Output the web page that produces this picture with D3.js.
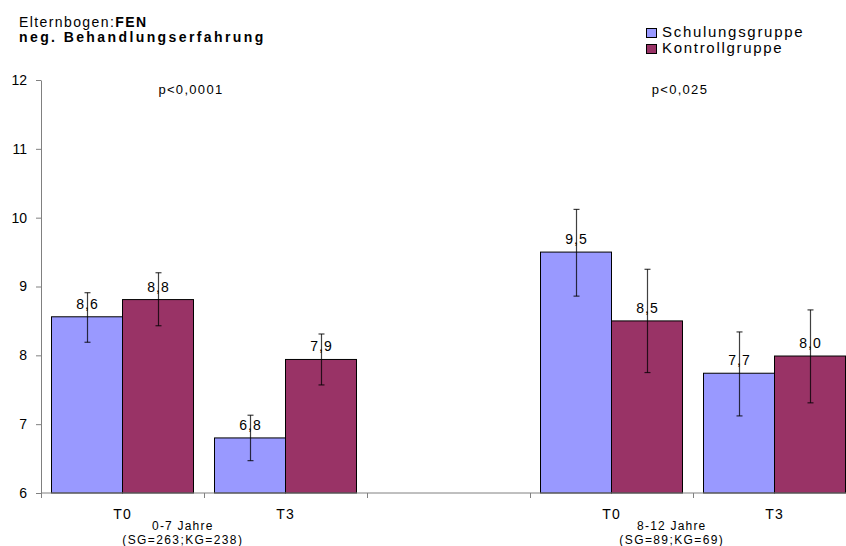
<!DOCTYPE html>
<html><head><meta charset="utf-8">
<script src="https://cdn.jsdelivr.net/npm/d3@7"></script>
<style>
body{margin:0;background:#fff;}
svg{display:block;font-family:"Liberation Sans",Arial,sans-serif;}
</style></head>
<body>
<svg id="c" width="846" height="546"></svg>
<script>
const categories = ["T0","T3","","T0","T3"];
const seriesNames = ["Schulungsgruppe","Kontrollgruppe"];
const schulung = [8.56, 6.80, null, 9.50, 7.74];
const kontroll = [8.81, 7.94, null, 8.50, 7.99];
const schulungLo = [8.19, 6.47, null, 8.86, 7.12];
const schulungHi = [8.91, 7.13, null, 10.12, 8.34];
const kontrollLo = [8.43, 7.57, null, 7.75, 7.31];
const kontrollHi = [9.20, 8.31, null, 9.25, 8.66];
const yTicks = [6,7,8,9,10,11,12];
const groupNames = ["0-7 Jahre","8-12 Jahre"];
const groupNs = ["(SG=263;KG=238)","(SG=89;KG=69)"];
const groupStart = [0,3];
const pValues = ["p<0,0001","p<0,025"];
const colors = ["#9999FF","#993366"];

const svg = d3.select("#c");
const x = d3.scaleBand().domain(d3.range(categories.length)).range([41,856]).paddingInner(0).paddingOuter(0);
const bw = x.bandwidth();
const xs = d3.scaleBand().domain([0,1]).range([0,bw]).paddingInner(0).paddingOuter(0.148);
const y = d3.scaleLinear().domain([6,12]).range([493,80]);
const fmt = v => d3.format(".1f")(v).replace(".",",");

// y axis
const ya = svg.append("g").attr("transform","translate(41,0)")
  .call(d3.axisLeft(y).tickValues(yTicks).tickSize(5).tickSizeOuter(0).tickPadding(9).tickFormat(d3.format("d")));
ya.select(".domain").attr("stroke","#808080");
ya.selectAll(".tick line").attr("stroke","#808080");
ya.selectAll(".tick text").attr("font-size",14).attr("fill","#000").attr("font-family","Liberation Sans, Arial, sans-serif");

// bars
const series = [
  {vals:schulung, lo:schulungLo, hi:schulungHi},
  {vals:kontroll, lo:kontrollLo, hi:kontrollHi}
];
series.forEach((s,si)=>{
  const idx = d3.range(categories.length).filter(i=>s.vals[i]!=null);
  svg.append("g").selectAll("rect").data(idx).join("rect")
    .attr("x",i=>x(i)+xs(si)).attr("width",xs.bandwidth())
    .attr("y",i=>y(s.vals[i])).attr("height",i=>y(6)-y(s.vals[i]))
    .attr("fill",colors[si]).attr("stroke","#000").attr("stroke-width",1);
});

// x axis
const xa = svg.append("g");
xa.append("line").attr("x1",x.range()[0]).attr("x2",846).attr("y1",y(6)).attr("y2",y(6))
  .attr("stroke","#808080").attr("stroke-width",1);
xa.selectAll(".xt").data(d3.range(categories.length)).join("line")
  .attr("x1",i=>x(i)+0.5).attr("x2",i=>x(i)+0.5).attr("y1",y(6)).attr("y2",y(6)+5)
  .attr("stroke","#808080");

// error bars and labels
series.forEach((s,si)=>{
  const idx = d3.range(categories.length).filter(i=>s.vals[i]!=null);
  const g = svg.append("g");
  idx.forEach(i=>{
    const cx = x(i)+xs(si)+xs.bandwidth()/2+0.5;
    g.append("text").attr("x",cx).attr("y",y(s.vals[i])-8).attr("text-anchor","middle")
      .attr("font-size",14).attr("letter-spacing","1px").attr("fill","#000").text(fmt(s.vals[i]));
    const e = g.append("g").attr("stroke","#000").attr("stroke-opacity",0.75).attr("stroke-width",1.2);
    e.append("line").attr("x1",cx).attr("x2",cx).attr("y1",y(s.hi[i])).attr("y2",y(s.lo[i]));
    e.append("line").attr("x1",cx-3).attr("x2",cx+3).attr("y1",y(s.hi[i])).attr("y2",y(s.hi[i]));
    e.append("line").attr("x1",cx-3).attr("x2",cx+3).attr("y1",y(s.lo[i])).attr("y2",y(s.lo[i]));
  });
});

// category labels
svg.append("g").selectAll("text").data(d3.range(categories.length)).join("text")
  .attr("x",i=>x(i)+bw/2).attr("y",519).attr("text-anchor","middle")
  .attr("font-size",14).attr("letter-spacing","1px").text(i=>categories[i]);

// group labels
groupNames.forEach((gname,gi)=>{
  const gx = x(groupStart[gi]) + bw*0.87;
  svg.append("text").attr("x",gx).attr("y",530).attr("text-anchor","middle")
    .attr("font-size",12).attr("letter-spacing","1.2px").text(gname);
  svg.append("text").attr("x",gx).attr("y",544).attr("text-anchor","middle")
    .attr("font-size",12).attr("letter-spacing","1.4px").text(groupNs[gi]);
  svg.append("text").attr("x",x(groupStart[gi])+bw*0.92).attr("y",94).attr("text-anchor","middle")
    .attr("font-size",13).attr("letter-spacing","1.3px").text(pValues[gi]);
});

// title
const t1 = svg.append("text").attr("x",19).attr("y",27).attr("font-size",14).attr("letter-spacing","1.4px");
t1.append("tspan").text("Elternbogen:");
t1.append("tspan").attr("font-weight","bold").text("FEN");
svg.append("text").attr("x",19).attr("y",42).attr("font-size",14).attr("font-weight","bold")
  .attr("letter-spacing","2.4px").text("neg. Behandlungserfahrung");

// legend
const lg = svg.append("g").attr("transform","translate(646,27)");
seriesNames.forEach((n,i)=>{
  lg.append("rect").attr("x",0.5).attr("y",i*16+1.5).attr("width",10).attr("height",9)
    .attr("fill",colors[i]).attr("stroke","#000");
  lg.append("text").attr("x",16).attr("y",i*16+10).attr("font-size",15).attr("letter-spacing","1.7px").text(n);
});
</script>
</body></html>
